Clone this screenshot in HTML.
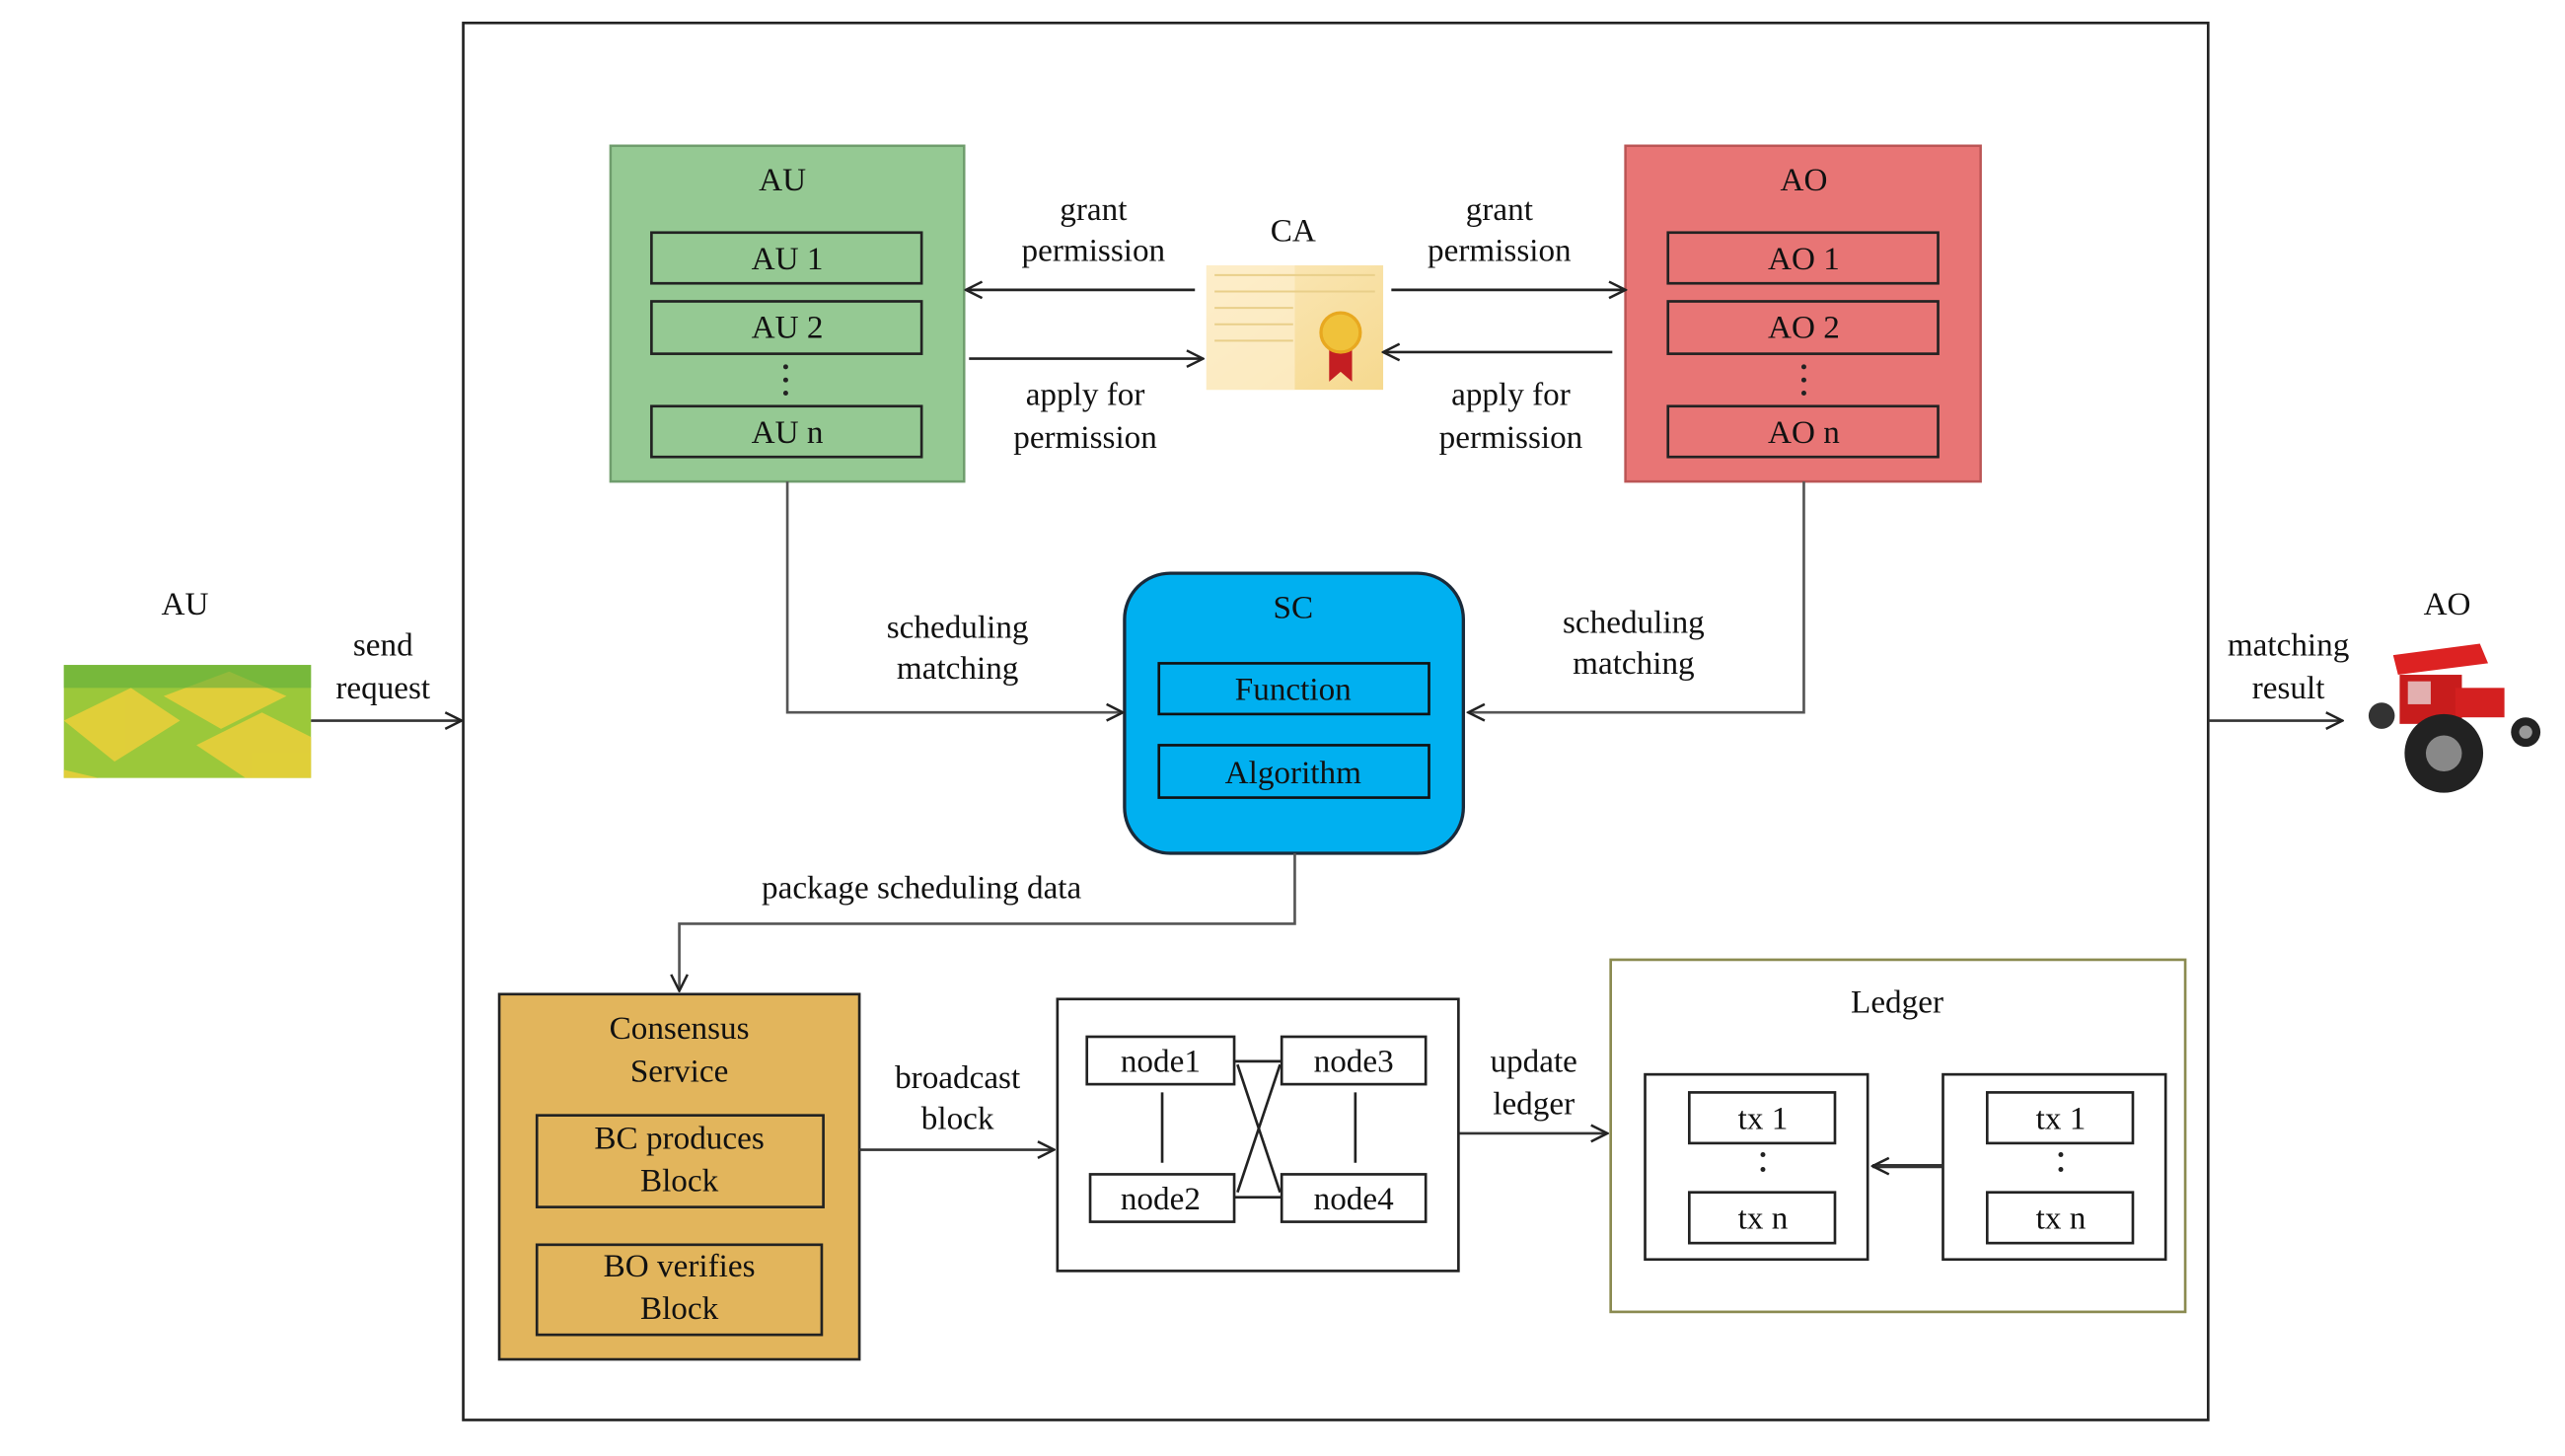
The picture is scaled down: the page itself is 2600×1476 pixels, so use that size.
<!DOCTYPE html>
<html><head><meta charset="utf-8"><style>
html,body{margin:0;padding:0;background:#fff}
svg{display:block}
text{font-family:"Liberation Serif",serif;font-size:20px;fill:#111;text-anchor:middle;dominant-baseline:central}
</style></head><body>
<svg width="2600" height="1476" viewBox="0 0 1567 889" preserveAspectRatio="none" xmlns="http://www.w3.org/2000/svg">
<defs>
<marker id="a" viewBox="0 0 12 12" refX="11" refY="6" markerWidth="12" markerHeight="12" markerUnits="userSpaceOnUse" orient="auto">
<path d="M1,1 L11,6 L1,11" fill="none" stroke="#222" stroke-width="1.5"/></marker>
<linearGradient id="g" x1="0" y1="0" x2="1" y2="1"><stop offset="0" stop-color="#fbe9bd"/><stop offset="1" stop-color="#f6d98f"/></linearGradient>
</defs>
<g stroke="#222" stroke-width="1.6" fill="none">
<rect x="283" y="14" width="1066" height="853"/>
</g>
<!-- AU -->
<rect x="373" y="89" width="216" height="205" fill="#95c993" stroke="#6f9d6d" stroke-width="1.5"/>
<text x="478" y="110">AU</text>
<g fill="none" stroke="#222" stroke-width="1.6">
<rect x="398" y="142" width="165" height="31"/><rect x="398" y="184" width="165" height="32"/><rect x="398" y="248" width="165" height="31"/>
</g>
<text x="481" y="158">AU 1</text><text x="481" y="200">AU 2</text><text x="481" y="264">AU n</text>
<g fill="#222"><circle cx="480" cy="224" r="1.5"/><circle cx="480" cy="232" r="1.5"/><circle cx="480" cy="240" r="1.5"/></g>
<!-- AO -->
<rect x="993" y="89" width="217" height="205" fill="#e87575" stroke="#b55" stroke-width="1.5"/>
<text x="1102" y="110">AO</text>
<g fill="none" stroke="#222" stroke-width="1.6">
<rect x="1019" y="142" width="165" height="31"/><rect x="1019" y="184" width="165" height="32"/><rect x="1019" y="248" width="165" height="31"/>
</g>
<text x="1102" y="158">AO 1</text><text x="1102" y="200">AO 2</text><text x="1102" y="264">AO n</text>
<g fill="#222"><circle cx="1102" cy="224" r="1.5"/><circle cx="1102" cy="232" r="1.5"/><circle cx="1102" cy="240" r="1.5"/></g>
<!-- CA -->
<text x="790" y="141">CA</text>
<rect x="737" y="162" width="108" height="76" fill="url(#g)"/>
<rect x="737" y="162" width="54" height="76" fill="#fdf0cf" opacity="0.7"/>
<g stroke="#e9cf8a" stroke-width="1.2"><line x1="742" y1="168" x2="840" y2="168"/><line x1="742" y1="178" x2="840" y2="178"/><line x1="742" y1="188" x2="790" y2="188"/><line x1="742" y1="198" x2="790" y2="198"/><line x1="742" y1="208" x2="790" y2="208"/></g>
<path d="M812,208 L812,233 L819,227 L826,233 L826,208 Z" fill="#c41e22"/>
<circle cx="819" cy="203" r="12" fill="#f0c23a" stroke="#e8a820" stroke-width="2"/>
<g stroke="#222" stroke-width="1.6" fill="none" marker-end="url(#a)">
<line x1="730" y1="177" x2="590" y2="177"/>
<line x1="592" y1="219" x2="735" y2="219"/>
<line x1="850" y1="177" x2="993" y2="177"/>
<line x1="985" y1="215" x2="845" y2="215"/>
</g>
<text x="668" y="128">grant</text><text x="668" y="153">permission</text>
<text x="663" y="241">apply for</text><text x="663" y="267">permission</text>
<text x="916" y="128">grant</text><text x="916" y="153">permission</text>
<text x="923" y="241">apply for</text><text x="923" y="267">permission</text>
<!-- SC -->
<rect x="687" y="350" width="207" height="171" rx="28" fill="#00b0f0" stroke="#1a2a3a" stroke-width="2"/>
<text x="790" y="371">SC</text>
<g fill="none" stroke="#111" stroke-width="1.6"><rect x="708" y="405" width="165" height="31"/><rect x="708" y="455" width="165" height="32"/></g>
<text x="790" y="421">Function</text><text x="790" y="472">Algorithm</text>
<g stroke="#555" stroke-width="1.6" fill="none" marker-end="url(#a)">
<polyline points="481,294 481,435 686,435"/>
<polyline points="1102,294 1102,435 897,435"/>
<polyline points="791,521 791,564 415,564 415,605"/>
</g>
<text x="585" y="383">scheduling</text><text x="585" y="408">matching</text>
<text x="998" y="380">scheduling</text><text x="998" y="405">matching</text>
<text x="563" y="542">package scheduling data</text>
<!-- Consensus -->
<rect x="305" y="607" width="220" height="223" fill="#e2b55c" stroke="#222" stroke-width="1.6"/>
<text x="415" y="628">Consensus</text><text x="415" y="654">Service</text>
<g fill="none" stroke="#222" stroke-width="1.6"><rect x="328" y="681" width="175" height="56"/><rect x="328" y="760" width="174" height="55"/></g>
<text x="415" y="695">BC produces</text><text x="415" y="721">Block</text>
<text x="415" y="773">BO verifies</text><text x="415" y="799">Block</text>
<g stroke="#333" stroke-width="1.6" fill="none" marker-end="url(#a)">
<line x1="525" y1="702" x2="644" y2="702"/>
<line x1="891" y1="692" x2="982" y2="692"/>
</g>
<text x="585" y="658">broadcast</text><text x="585" y="683">block</text>
<text x="937" y="648">update</text><text x="937" y="674">ledger</text>
<!-- nodes -->
<g fill="none" stroke="#222" stroke-width="1.6">
<rect x="646" y="610" width="245" height="166"/>
<rect x="664" y="633" width="90" height="29"/><rect x="783" y="633" width="88" height="29"/>
<rect x="666" y="717" width="88" height="29"/><rect x="783" y="717" width="88" height="29"/>
<line x1="710" y1="667" x2="710" y2="710"/><line x1="828" y1="667" x2="828" y2="710"/>
<line x1="754" y1="648" x2="783" y2="648"/><line x1="754" y1="731" x2="783" y2="731"/>
<line x1="756" y1="650" x2="782" y2="728"/><line x1="782" y1="650" x2="756" y2="728"/>
</g>
<text x="709" y="648">node1</text><text x="827" y="648">node3</text>
<text x="709" y="732">node2</text><text x="827" y="732">node4</text>
<!-- Ledger -->
<rect x="984" y="586" width="351" height="215" fill="none" stroke="#8a8a50" stroke-width="1.6"/>
<text x="1159" y="612">Ledger</text>
<g fill="none" stroke="#222" stroke-width="1.6">
<rect x="1005" y="656" width="136" height="113"/><rect x="1032" y="667" width="89" height="31"/><rect x="1032" y="728" width="89" height="31"/>
<rect x="1187" y="656" width="136" height="113"/><rect x="1214" y="667" width="89" height="31"/><rect x="1214" y="728" width="89" height="31"/>
</g>
<text x="1077" y="683">tx 1</text><text x="1077" y="744">tx n</text>
<text x="1259" y="683">tx 1</text><text x="1259" y="744">tx n</text>
<g fill="#222"><circle cx="1077" cy="705" r="1.5"/><circle cx="1077" cy="714" r="1.5"/><circle cx="1259" cy="705" r="1.5"/><circle cx="1259" cy="714" r="1.5"/></g>
<line x1="1187" y1="712" x2="1144" y2="712" stroke="#333" stroke-width="2.5" marker-end="url(#a)"/>
<!-- left AU -->
<text x="113" y="369">AU</text>
<rect x="39" y="406" width="151" height="69" fill="#9bc83a"/>
<g fill="#e8cf3a" opacity="0.9">
<polygon points="39,440 80,420 110,440 70,465"/><polygon points="100,425 140,410 175,425 135,445"/>
<polygon points="120,455 160,435 190,450 190,475 150,475"/><polygon points="39,470 60,475 39,475"/>
</g>
<rect x="39" y="406" width="151" height="14" fill="#5fae3c" opacity="0.6"/>
<text x="234" y="394">send</text><text x="234" y="420">request</text>
<line x1="190" y1="440" x2="282" y2="440" stroke="#333" stroke-width="1.6" marker-end="url(#a)"/>
<!-- right AO -->
<text x="1495" y="369">AO</text>
<text x="1398" y="394">matching</text><text x="1398" y="420">result</text>
<line x1="1349" y1="440" x2="1431" y2="440" stroke="#333" stroke-width="1.6" marker-end="url(#a)"/>
<g>
<path d="M1462,400 L1515,393 L1520,405 L1465,412 Z" fill="#d22"/>
<rect x="1466" y="412" width="38" height="30" fill="#c81c1c"/>
<rect x="1471" y="416" width="14" height="14" fill="#eee" opacity="0.7"/>
<rect x="1500" y="420" width="30" height="18" fill="#d42020"/>
<circle cx="1493" cy="460" r="24" fill="#222"/><circle cx="1493" cy="460" r="11" fill="#888"/>
<circle cx="1543" cy="447" r="9" fill="#222"/><circle cx="1543" cy="447" r="4" fill="#999"/>
<circle cx="1455" cy="437" r="8" fill="#333"/>
</g>
</svg>
</body></html>
